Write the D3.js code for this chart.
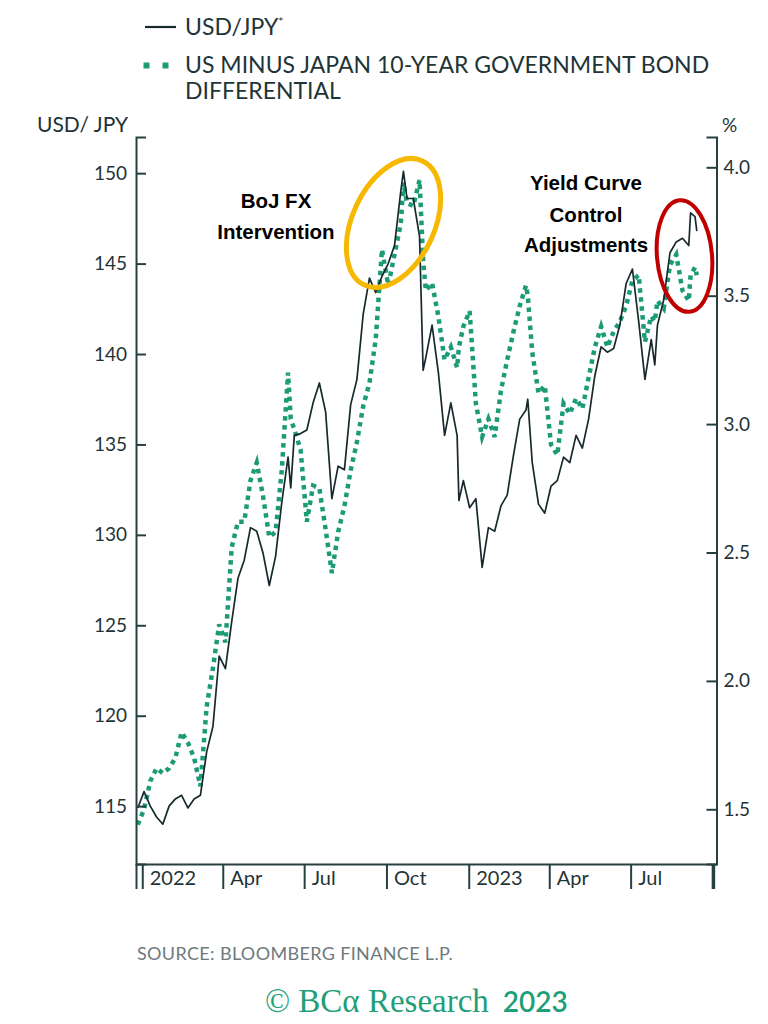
<!DOCTYPE html>
<html>
<head>
<meta charset="utf-8">
<script src="https://cdn.jsdelivr.net/npm/d3@7"></script>
<style>
  body { margin: 0; background: #ffffff; }
  svg { display: block; }
</style>
</head>
<body>
<svg id="canvas"></svg>
<script>
const WIDTH = 768;
const HEIGHT = 1024;

const MARGIN = { top: 137, right: 716.5, bottom: 864, left: 136 };

const dates = [
  "2021-12-27", "2022-01-03", "2022-01-10", "2022-01-17", "2022-01-24", "2022-01-31", "2022-02-07", "2022-02-14", "2022-02-21", "2022-02-28",
  "2022-03-07", "2022-03-14", "2022-03-21", "2022-03-28", "2022-04-04", "2022-04-11", "2022-04-18", "2022-04-25", "2022-05-02", "2022-05-09",
  "2022-05-16", "2022-05-23", "2022-05-30", "2022-06-06", "2022-06-13", "2022-06-16", "2022-06-20", "2022-06-27", "2022-07-04", "2022-07-11", "2022-07-18",
  "2022-07-25", "2022-08-01", "2022-08-08", "2022-08-15", "2022-08-22", "2022-08-29", "2022-09-05", "2022-09-12", "2022-09-19", "2022-09-26",
  "2022-10-03", "2022-10-10", "2022-10-17", "2022-10-20", "2022-10-24", "2022-10-31", "2022-11-07", "2022-11-11", "2022-11-14", "2022-11-21",
  "2022-11-28", "2022-12-05", "2022-12-12", "2022-12-19", "2022-12-21", "2022-12-26", "2023-01-02", "2023-01-09", "2023-01-16", "2023-01-23", "2023-01-30",
  "2023-02-06", "2023-02-13", "2023-02-20", "2023-02-27", "2023-03-06", "2023-03-08", "2023-03-13", "2023-03-20", "2023-03-27", "2023-04-03",
  "2023-04-10", "2023-04-17", "2023-04-24", "2023-05-01", "2023-05-08", "2023-05-15", "2023-05-22", "2023-05-29", "2023-06-05", "2023-06-12",
  "2023-06-19", "2023-06-26", "2023-07-03", "2023-07-10", "2023-07-17", "2023-07-24", "2023-07-28", "2023-07-31", "2023-08-07", "2023-08-14", "2023-08-21",
  "2023-08-28", "2023-09-04", "2023-09-06", "2023-09-11", "2023-09-13"
];

const usdJpy = [
  114.9, 115.8, 115.0, 114.4, 114.0, 115.0, 115.4, 115.6, 114.9, 115.4,
  115.6, 118.0, 119.4, 123.3, 122.6, 125.2, 127.6, 128.6, 130.4, 130.2,
  129.0, 127.2, 128.8, 131.8, 134.3, 132.6, 135.5, 135.6, 135.8, 137.3, 138.4,
  136.8, 132.0, 133.8, 133.6, 137.2, 138.6, 142.2, 144.2, 143.4, 144.3,
  145.0, 146.0, 149.0, 150.1, 148.6, 148.6, 146.5, 139.1, 139.8, 141.6,
  139.0, 135.5, 137.3, 135.5, 131.9, 133.0, 131.5, 132.0, 128.2, 130.4, 130.2,
  131.6, 132.2, 134.4, 136.4, 136.9, 137.5, 134.0, 131.7, 131.2, 132.7,
  133.0, 134.3, 134.0, 135.5, 134.8, 136.4, 138.8, 140.4, 140.1, 140.3,
  141.6, 143.9, 144.7, 141.8, 138.6, 140.8, 139.4, 141.6, 143.0, 145.6, 146.2,
  146.4, 146.0, 147.8, 147.6, 146.8
];

const bondSpread = [
  1.44, 1.50, 1.61, 1.66, 1.64, 1.66, 1.70, 1.80, 1.76, 1.70,
  1.59, 1.90, 2.05, 2.22, 2.15, 2.52, 2.62, 2.62, 2.78, 2.85,
  2.72, 2.56, 2.58, 2.82, 3.20, 3.02, 2.98, 2.90, 2.62, 2.76, 2.75,
  2.59, 2.42, 2.58, 2.68, 2.82, 2.93, 3.07, 3.16, 3.33, 3.68,
  3.54, 3.66, 3.78, 3.94, 3.86, 3.85, 3.95, 3.64, 3.52, 3.55,
  3.42, 3.25, 3.30, 3.22, 3.30, 3.38, 3.44, 3.08, 2.95, 3.02, 2.95,
  3.13, 3.25, 3.36, 3.46, 3.54, 3.50, 3.28, 3.12, 3.15, 2.92,
  2.88, 3.08, 3.04, 3.10, 3.06, 3.18, 3.30, 3.38, 3.30, 3.36,
  3.40, 3.46, 3.56, 3.58, 3.32, 3.42, 3.40, 3.48, 3.45, 3.62, 3.66,
  3.52, 3.48, 3.58, 3.61, 3.58
];

const leftTicks = [115, 120, 125, 130, 135, 140, 145, 150];
const rightTicks = [1.5, 2.0, 2.5, 3.0, 3.5, 4.0];
const xTickDates = ["2021-12-25", "2022-01-01", "2022-04-01", "2022-07-01", "2022-10-01", "2023-01-01", "2023-04-01", "2023-07-01", "2023-10-01"];
const xTickLabels = ["", "2022", "Apr", "Jul", "Oct", "2023", "Apr", "Jul", ""];

const TEXT_COLOR = "#1f3437";
const AXIS_COLOR = "#26403f";
const FX_COLOR = "#17292c";
const SPREAD_COLOR = "#1c9c76";

const parseDate = d3.timeParse("%Y-%m-%d");

const values = dates.map((d, i) => ({
  date: parseDate(d),
  fx: usdJpy[i],
  spread: bondSpread[i]
}));

const canvas = d3.select("#canvas").attr("width", WIDTH).attr("height", HEIGHT);
canvas.append("rect").attr("width", WIDTH).attr("height", HEIGHT).attr("fill", "#ffffff");

const xScale = d3
  .scaleTime()
  .domain([parseDate("2021-12-25"), parseDate("2023-10-05")])
  .range([MARGIN.left, MARGIN.right]);

const yLeft = d3.scaleLinear().domain([111.8, 152]).range([MARGIN.bottom, MARGIN.top]);
const yRight = d3.scaleLinear().domain([1.287, 4.118]).range([MARGIN.bottom, MARGIN.top]);

// legend
const legend = canvas.append("g").attr("font-family", "Lato, 'Open Sans', sans-serif").attr("fill", TEXT_COLOR);

legend
  .append("line")
  .attr("x1", 145).attr("x2", 176).attr("y1", 27).attr("y2", 27)
  .attr("stroke", FX_COLOR).attr("stroke-width", 2.2);

const fxLabel = legend.append("text").attr("x", 185).attr("y", 35).attr("font-size", 23);
fxLabel.append("tspan").text("USD/JPY");
fxLabel.append("tspan").attr("font-size", 12).attr("dy", -9).text("*");

legend
  .append("line")
  .attr("x1", 143.5).attr("x2", 170).attr("y1", 65.5).attr("y2", 65.5)
  .attr("stroke", SPREAD_COLOR).attr("stroke-width", 6)
  .attr("stroke-dasharray", "6,13");

legend.append("text").attr("x", 185).attr("y", 73).attr("font-size", 23)
  .text("US MINUS JAPAN 10-YEAR GOVERNMENT BOND");
legend.append("text").attr("x", 185).attr("y", 99).attr("font-size", 23)
  .text("DIFFERENTIAL");

// axis titles
canvas.append("text")
  .attr("x", 37).attr("y", 132)
  .attr("font-family", "Lato, sans-serif").attr("font-size", 21)
  .attr("fill", TEXT_COLOR)
  .text("USD/ JPY");

canvas.append("text")
  .attr("x", 722).attr("y", 132)
  .attr("font-family", "Lato, sans-serif").attr("font-size", 19)
  .attr("fill", TEXT_COLOR)
  .text("%");

// lines
const spreadLine = d3.line().x((d) => xScale(d.date)).y((d) => yRight(d.spread));
const fxLine = d3.line().x((d) => xScale(d.date)).y((d) => yLeft(d.fx));

canvas.append("path")
  .datum(values)
  .attr("d", spreadLine)
  .attr("fill", "none")
  .attr("stroke", SPREAD_COLOR)
  .attr("stroke-width", 4.5)
  .attr("stroke-dasharray", "4.5,4.5");

canvas.append("path")
  .datum(values)
  .attr("d", fxLine)
  .attr("fill", "none")
  .attr("stroke", FX_COLOR)
  .attr("stroke-width", 1.7)
  .attr("stroke-linejoin", "round");

// axes
const styleAxis = (g) => {
  g.selectAll(".domain").attr("stroke", AXIS_COLOR).attr("stroke-width", 2);
  g.selectAll(".tick line").attr("stroke", AXIS_COLOR).attr("stroke-width", 2);
  g.selectAll(".tick text")
    .attr("fill", TEXT_COLOR)
    .attr("font-family", "Lato, sans-serif")
    .attr("font-size", 19);
};

const leftAxis = d3.axisLeft(yLeft)
  .tickValues(leftTicks)
  .tickSizeInner(-10)
  .tickSizeOuter(-10)
  .tickPadding(9);

canvas.append("g")
  .attr("transform", `translate(${MARGIN.left}, 0)`)
  .call(leftAxis)
  .call(styleAxis);

const rightAxis = d3.axisRight(yRight)
  .tickValues(rightTicks)
  .tickFormat(d3.format(".1f"))
  .tickSizeInner(-10)
  .tickSizeOuter(-10)
  .tickPadding(7);

canvas.append("g")
  .attr("transform", `translate(${MARGIN.right}, 0)`)
  .call(rightAxis)
  .call(styleAxis);

const xAxis = d3.axisBottom(xScale)
  .tickValues(xTickDates.map(parseDate))
  .tickFormat((d, i) => xTickLabels[i])
  .tickSize(25)
  .tickSizeOuter(0);

const xAxisGroup = canvas.append("g")
  .attr("transform", `translate(0, ${MARGIN.bottom})`)
  .call(xAxis)
  .call(styleAxis);

xAxisGroup.selectAll(".tick text")
  .attr("text-anchor", "start")
  .attr("x", 7)
  .attr("y", 21)
  .attr("dy", null)
  .attr("font-size", 20);

xAxisGroup.selectAll(".tick line")
  .filter((d, i) => i === xTickDates.length - 1)
  .attr("stroke-width", 3.5);

// annotations
const notes = canvas.append("g")
  .attr("font-family", "'Liberation Sans', Arial, sans-serif")
  .attr("font-weight", "bold")
  .attr("font-size", 20.5)
  .attr("fill", "#000000")
  .attr("text-anchor", "middle");

notes.append("text").attr("x", 276).attr("y", 208).text("BoJ FX");
notes.append("text").attr("x", 276).attr("y", 239).text("Intervention");

notes.append("text").attr("x", 586).attr("y", 190).text("Yield Curve");
notes.append("text").attr("x", 586).attr("y", 222).text("Control");
notes.append("text").attr("x", 586).attr("y", 252).text("Adjustments");

canvas.append("ellipse")
  .attr("cx", 0).attr("cy", 0).attr("rx", 41).attr("ry", 68.5)
  .attr("transform", "translate(393.5, 223) rotate(25)")
  .attr("fill", "none")
  .attr("stroke", "#f6b800")
  .attr("stroke-width", 5);

canvas.append("ellipse")
  .attr("cx", 0).attr("cy", 0).attr("rx", 27.5).attr("ry", 56)
  .attr("transform", "translate(684.5, 256) rotate(-5)")
  .attr("fill", "none")
  .attr("stroke", "#c00000")
  .attr("stroke-width", 4);

// footer
canvas.append("text")
  .attr("x", 137).attr("y", 960)
  .attr("font-family", "Lato, sans-serif")
  .attr("font-size", 18)
  .attr("letter-spacing", 0.35)
  .attr("fill", "#6e7a7c")
  .text("SOURCE: BLOOMBERG FINANCE L.P.");

const brand = canvas.append("text")
  .attr("x", 265).attr("y", 1012)
  .attr("fill", "#1f9f79");

brand.append("tspan")
  .attr("font-family", "'Liberation Serif', 'Times New Roman', serif")
  .attr("font-size", 33)
  .text("© BCα Research");

brand.append("tspan")
  .attr("font-family", "Lato, sans-serif")
  .attr("font-weight", 600)
  .attr("font-size", 28)
  .attr("dx", 14)
  .text("2023");
</script>
</body>
</html>
